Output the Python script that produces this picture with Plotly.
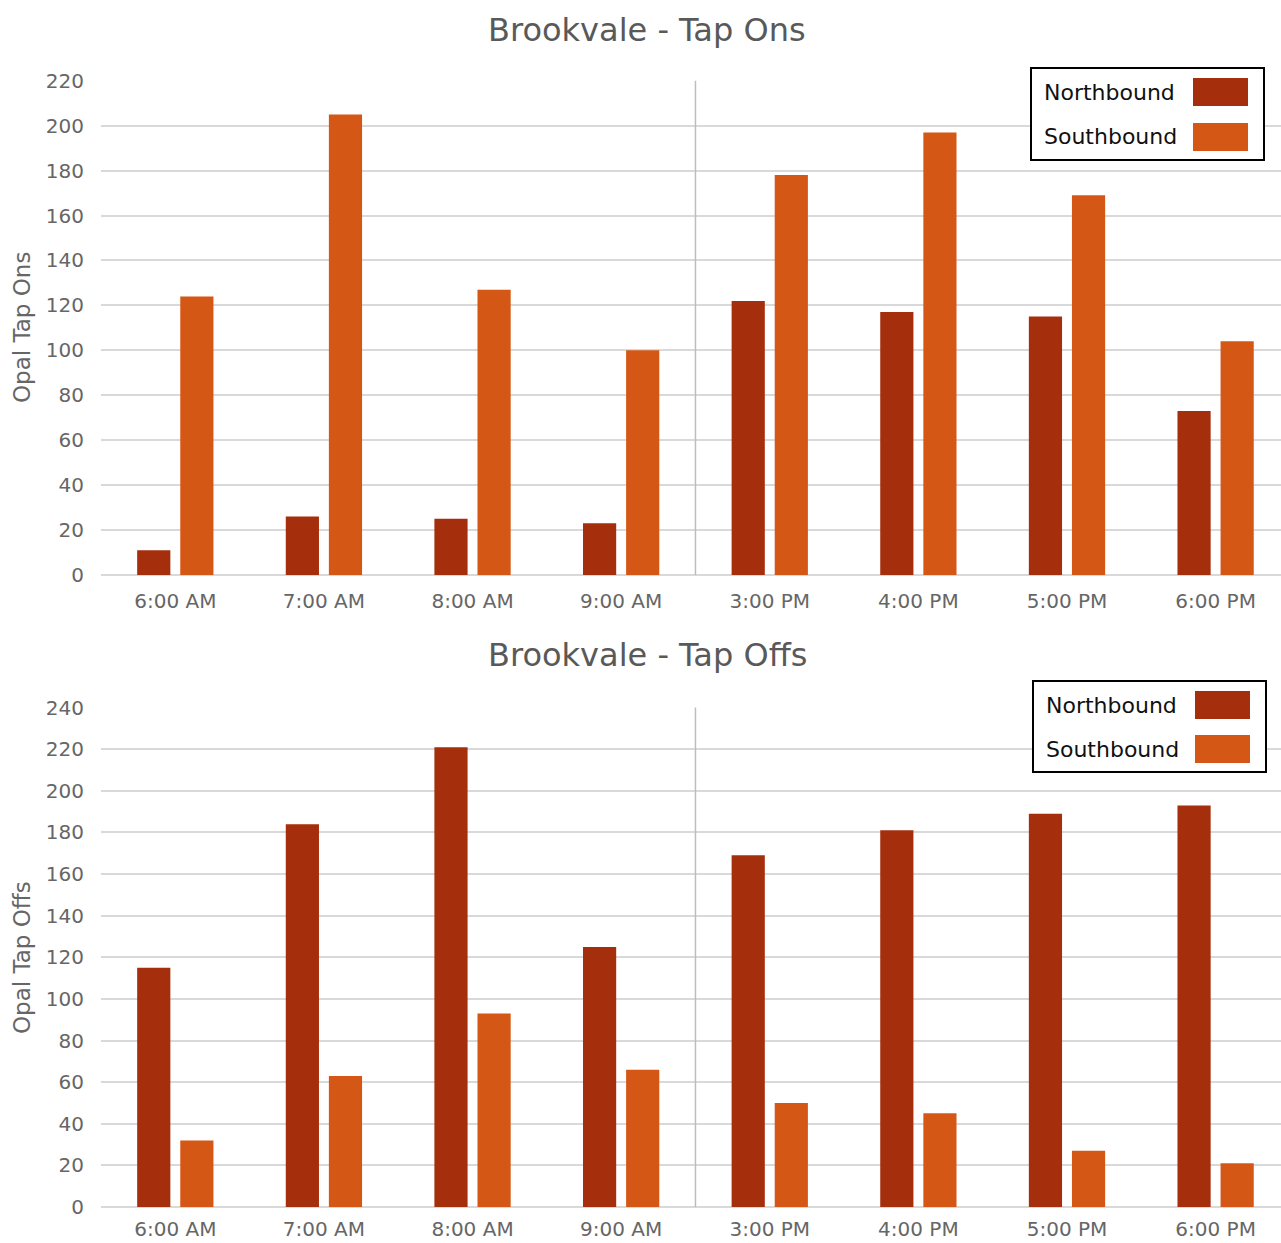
import plotly.graph_objects as go

# Hourly Opal card activity at Brookvale, split by travel direction
hours = ["6:00 AM", "7:00 AM", "8:00 AM", "9:00 AM",
         "3:00 PM", "4:00 PM", "5:00 PM", "6:00 PM"]

tap_ons_north = [11, 26, 25, 23, 122, 117, 115, 73]
tap_ons_south = [124, 205, 127, 100, 178, 197, 169, 104]

tap_offs_north = [115, 184, 221, 125, 169, 181, 189, 193]
tap_offs_south = [32, 63, 93, 66, 50, 45, 27, 21]

series_names = ["Northbound", "Southbound"]
series_colors = ["#A52E0D", "#D55716"]

W, H = 1281, 1243
LEFT = 101
PLOT_W = W - LEFT

FONT = "DejaVu Sans"
TICK_COLOR = "#666666"
TITLE_COLOR = "#595959"
GRID_COLOR = "#D9D9D9"


def px_x(x):
    return (x - LEFT) / PLOT_W


def px_y(y):
    return 1 - y / H


fig = go.Figure()

panels = [
    dict(north=tap_ons_north, south=tap_ons_south, xa="x", ya="y",
         top=80.7, bottom=575, ymax=220, title="Brookvale - Tap Ons",
         title_y=30, ytitle="Opal Tap Ons", ytitle_y=328, xstand=12,
         box=(1031, 68, 1264, 160), rows=(92, 137)),
    dict(north=tap_offs_north, south=tap_offs_south, xa="x2", ya="y2",
         top=707.6, bottom=1207, ymax=240, title="Brookvale - Tap Offs",
         title_y=655, ytitle="Opal Tap Offs", ytitle_y=958, xstand=8,
         box=(1033, 681, 1266, 772), rows=(705, 749)),
]

shapes = []
annotations = []

for i, p in enumerate(panels):
    for name, vals, col in zip(series_names, [p["north"], p["south"]], series_colors):
        fig.add_trace(go.Bar(
            x=hours, y=vals, name=name, marker=dict(color=col, line=dict(width=0)),
            xaxis=p["xa"], yaxis=p["ya"], showlegend=False,
        ))

    sfx = "" if i == 0 else "2"
    dom = [px_y(p["bottom"]), px_y(p["top"])]
    fig.update_layout(**{
        "xaxis" + sfx: dict(
            domain=[0, 1], anchor="y" + sfx, type="category",
            range=[-0.5, 7.44], showgrid=False, showline=False, zeroline=False,
            ticks="", ticklabelstandoff=p["xstand"],
            tickfont=dict(family=FONT, size=20, color=TICK_COLOR),
        ),
        "yaxis" + sfx: dict(
            domain=dom, anchor="x" + sfx, range=[0, p["ymax"]], dtick=20,
            showgrid=True, gridcolor=GRID_COLOR, gridwidth=2,
            zeroline=True, zerolinecolor=GRID_COLOR, zerolinewidth=2,
            showline=False, ticks="", ticklabelstandoff=16,
            tickfont=dict(family=FONT, size=20, color=TICK_COLOR),
        ),
    })

    # divider between the morning and afternoon peaks
    shapes.append(dict(type="line", xref=p["xa"], yref=p["ya"] + " domain",
                       x0=3.5, x1=3.5, y0=0, y1=1,
                       line=dict(color="#BDBDBD", width=1.5)))

    annotations.append(dict(text=p["title"], xref="paper", yref="paper",
                            x=px_x(647), y=px_y(p["title_y"]), showarrow=False,
                            xanchor="center", yanchor="middle",
                            font=dict(family=FONT, size=32, color=TITLE_COLOR)))
    annotations.append(dict(text=p["ytitle"], xref="paper", yref="paper",
                            x=px_x(22), y=px_y(p["ytitle_y"]), showarrow=False,
                            textangle=-90, xanchor="center", yanchor="middle",
                            font=dict(family=FONT, size=23, color=TICK_COLOR)))

    # legend box with labels on the left and colour swatches on the right
    bx0, by0, bx1, by1 = p["box"]
    shapes.append(dict(type="rect", xref="paper", yref="paper",
                       x0=px_x(bx0), x1=px_x(bx1), y0=px_y(by1), y1=px_y(by0),
                       fillcolor="white", line=dict(color="black", width=2),
                       layer="above"))
    for name, col, ry in zip(series_names, series_colors, p["rows"]):
        shapes.append(dict(type="rect", xref="paper", yref="paper",
                           x0=px_x(bx1 - 71), x1=px_x(bx1 - 16),
                           y0=px_y(ry + 14), y1=px_y(ry - 14),
                           fillcolor=col, line=dict(width=0), layer="above"))
        annotations.append(dict(text=name, xref="paper", yref="paper",
                                x=px_x(bx0 + 11), y=px_y(ry), showarrow=False,
                                xanchor="left", yanchor="middle",
                                font=dict(family=FONT, size=22, color="#111111")))

fig.update_layout(
    width=W, height=H,
    margin=dict(l=LEFT, r=0, t=0, b=0, autoexpand=False),
    barmode="group", bargap=0.42, bargroupgap=0.23,
    plot_bgcolor="white", paper_bgcolor="white",
    shapes=shapes, annotations=annotations,
    showlegend=False,
)

fig.write_html("out.html")
